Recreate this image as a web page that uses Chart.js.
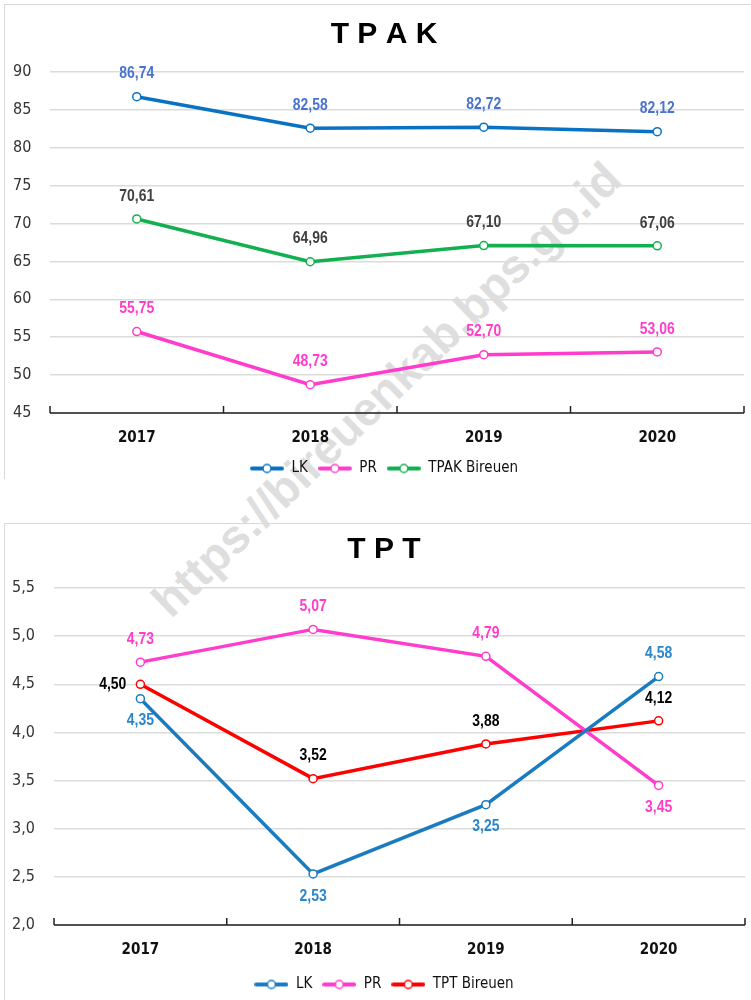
<!DOCTYPE html>
<html>
<head>
<meta charset="utf-8">
<script src="https://cdn.jsdelivr.net/npm/chart.js@4.4.0/dist/chart.umd.min.js"></script>
<style>
  html, body { margin: 0; padding: 0; background: #fff; }
  body { width: 751px; height: 1000px; position: relative; overflow: hidden; }
  .box { position: absolute; left: 4px; width: 760px; border-left: 1px solid #d9d9d9; border-top: 1px solid #d9d9d9; }
  .wrap { position: absolute; left: 0; width: 751px; }
  .mark {
    position: absolute; left: 386px; top: 389px; white-space: nowrap;
    transform: translate(-50%, -50%) rotate(-44deg);
    font: bold 47px "Liberation Sans", Arial, sans-serif; color: #dedede;
  }
</style>
</head>
<body>
<div class="mark">https://bireuenkab.bps.go.id</div>
<div class="box" style="top:4px;height:474px"></div>
<div class="box" style="top:523px;height:480px"></div>
<div class="wrap" style="top:0;height:490px"><canvas id="tpak"></canvas></div>
<div class="wrap" style="top:523px;height:483px"><canvas id="tpt"></canvas></div>
<script>
// data
const years = ['2017', '2018', '2019', '2020'];

const tpakLK = [86.74, 82.58, 82.72, 82.12];
const tpakPR = [55.75, 48.73, 52.70, 53.06];
const tpakBireuen = [70.61, 64.96, 67.10, 67.06];

const tptLK = [4.35, 2.53, 3.25, 4.58];
const tptPR = [4.73, 5.07, 4.79, 3.45];
const tptBireuen = [4.50, 3.52, 3.88, 4.12];

const narrow = '"Liberation Sans Narrow", "Arial Narrow", "DejaVu Sans Condensed", sans-serif';
const wide = '"Liberation Sans", Arial, sans-serif';

const comma = (v, d) => v.toFixed(d).replace('.', ',');

// excel style legend marker: line with hollow circle
function legendMark(color) {
  const c = document.createElement('canvas');
  c.width = 34; c.height = 12;
  const g = c.getContext('2d');
  g.strokeStyle = color; g.lineWidth = 4; g.lineCap = 'round';
  g.beginPath(); g.moveTo(2, 6); g.lineTo(32, 6); g.stroke();
  g.fillStyle = '#fff'; g.lineWidth = 1.5;
  g.beginPath(); g.arc(17, 6, 4, 0, Math.PI * 2); g.fill(); g.stroke();
  return c;
}

// value labels next to points (squeezed a bit, like Arial Narrow)
const valueLabels = {
  id: 'valueLabels',
  afterDatasetsDraw(chart) {
    const ctx = chart.ctx;
    const sx = 0.82;
    chart.data.datasets.forEach((ds, i) => {
      const meta = chart.getDatasetMeta(i);
      meta.data.forEach((pt, j) => {
        const pos = ds.labelPos[j];
        const txt = comma(ds.data[j], 2);
        let x = pt.x, y = pt.y, align = 'center';
        if (pos === 'left') { x = pt.x - 14; align = 'right'; }
        else y = pos === 'top' ? pt.y - 23 : pt.y + 22;
        ctx.save();
        ctx.font = 'bold 17px ' + wide;
        ctx.fillStyle = ds.labelColor;
        ctx.textBaseline = 'middle';
        ctx.textAlign = align;
        ctx.translate(x, y);
        ctx.scale(sx, 1);
        ctx.fillText(txt, 0, 0);
        ctx.restore();
      });
    });
  }
};

// black category axis with inward tick marks
const catAxis = {
  id: 'catAxis',
  beforeDatasetsDraw(chart) {
    const {ctx, chartArea: {left, right, bottom}} = chart;
    const n = chart.data.labels.length;
    ctx.save();
    ctx.strokeStyle = '#222';
    ctx.lineWidth = 1.5;
    ctx.beginPath();
    ctx.moveTo(left, bottom); ctx.lineTo(right, bottom);
    for (let i = 0; i <= n; i++) {
      const x = left + (right - left) * i / n;
      ctx.moveTo(x, bottom); ctx.lineTo(x, bottom - 7);
    }
    ctx.stroke();
    ctx.restore();
  }
};

function series(label, data, color, labelColor, labelPos) {
  return {
    label, data, labelColor, labelPos,
    borderColor: color,
    backgroundColor: '#fff',
    borderWidth: 3.5,
    pointRadius: 4,
    pointBorderWidth: 1.5,
    pointBackgroundColor: '#fff',
    pointBorderColor: color,
    pointStyle: 'circle',
    tension: 0
  };
}

// y labels are mirrored (drawn left of the axis box) so the layout's left
// padding can centre title and legend like the original without clipping them
function makeChart(id, title, datasets, min, max, step, dec, lay, titlePad, xHeight) {
  return new Chart(document.getElementById(id), {
    type: 'line',
    data: {labels: years, datasets},
    options: {
      responsive: true,
      maintainAspectRatio: false,
      animation: false,
      layout: {padding: {left: lay.left, right: lay.right, top: 0, bottom: 4}},
      scales: {
        x: {
          offset: true,
          grid: {display: false, drawTicks: false},
          border: {display: false},
          ticks: {color: '#111', padding: 16, font: {family: narrow, size: 15, weight: 'bold'}},
          afterFit: (s) => { s.height = xHeight; }
        },
        y: {
          min, max,
          grid: {color: '#dcdcdc', lineWidth: 1.5, drawTicks: false},
          border: {display: false},
          ticks: {
            stepSize: step, color: '#333', mirror: true, crossAlign: 'near',
            padding: lay.tickPad,
            font: {family: narrow, size: 16},
            callback: (v) => comma(v, dec)
          },
          afterFit: (s) => { s.width = lay.yWidth; }
        }
      },
      plugins: {
        title: {
          display: true, text: title, color: '#000',
          font: {family: wide, size: 30, weight: 'bold', lineHeight: 1.2},
          padding: titlePad
        },
        legend: {
          position: 'bottom',
          labels: {
            color: '#111',
            font: {family: narrow, size: 15},
            usePointStyle: true,
            pointStyleWidth: 34,
            padding: 10,
            generateLabels: (chart) => chart.data.datasets.map((ds, i) => ({
              text: ds.label,
              pointStyle: legendMark(ds.borderColor),
              fontColor: '#111',
              lineWidth: 0,
              hidden: false,
              datasetIndex: i
            }))
          }
        },
        tooltip: {enabled: false}
      }
    },
    plugins: [catAxis, valueLabels]
  });
}

makeChart('tpak', 'T P A K', [
  series('LK', tpakLK, '#0a72c2', '#4a72cf', ['top', 'top', 'top', 'top']),
  series('PR', tpakPR, '#ff3ccc', '#ff3ccc', ['top', 'top', 'top', 'top']),
  series('TPAK Bireuen', tpakBireuen, '#12b050', '#404040', ['top', 'top', 'top', 'top'])
], 45, 90, 5, 0, {left: 24, right: 7, yWidth: 26, tickPad: -37}, {top: 17, bottom: 19}, 38);

makeChart('tpt', 'T P T', [
  series('LK', tptLK, '#1a7cc0', '#2a86cc', ['bottom', 'bottom', 'bottom', 'top']),
  series('PR', tptPR, '#ff3ccc', '#ff3ccc', ['top', 'top', 'top', 'bottom']),
  series('TPT Bireuen', tptBireuen, '#ff0000', '#000', ['left', 'top', 'top', 'top'])
], 2, 5.5, 0.5, 1, {left: 23, right: 6, yWidth: 31, tickPad: -42}, {top: 9, bottom: 20}, 42);
</script>
</body>
</html>
